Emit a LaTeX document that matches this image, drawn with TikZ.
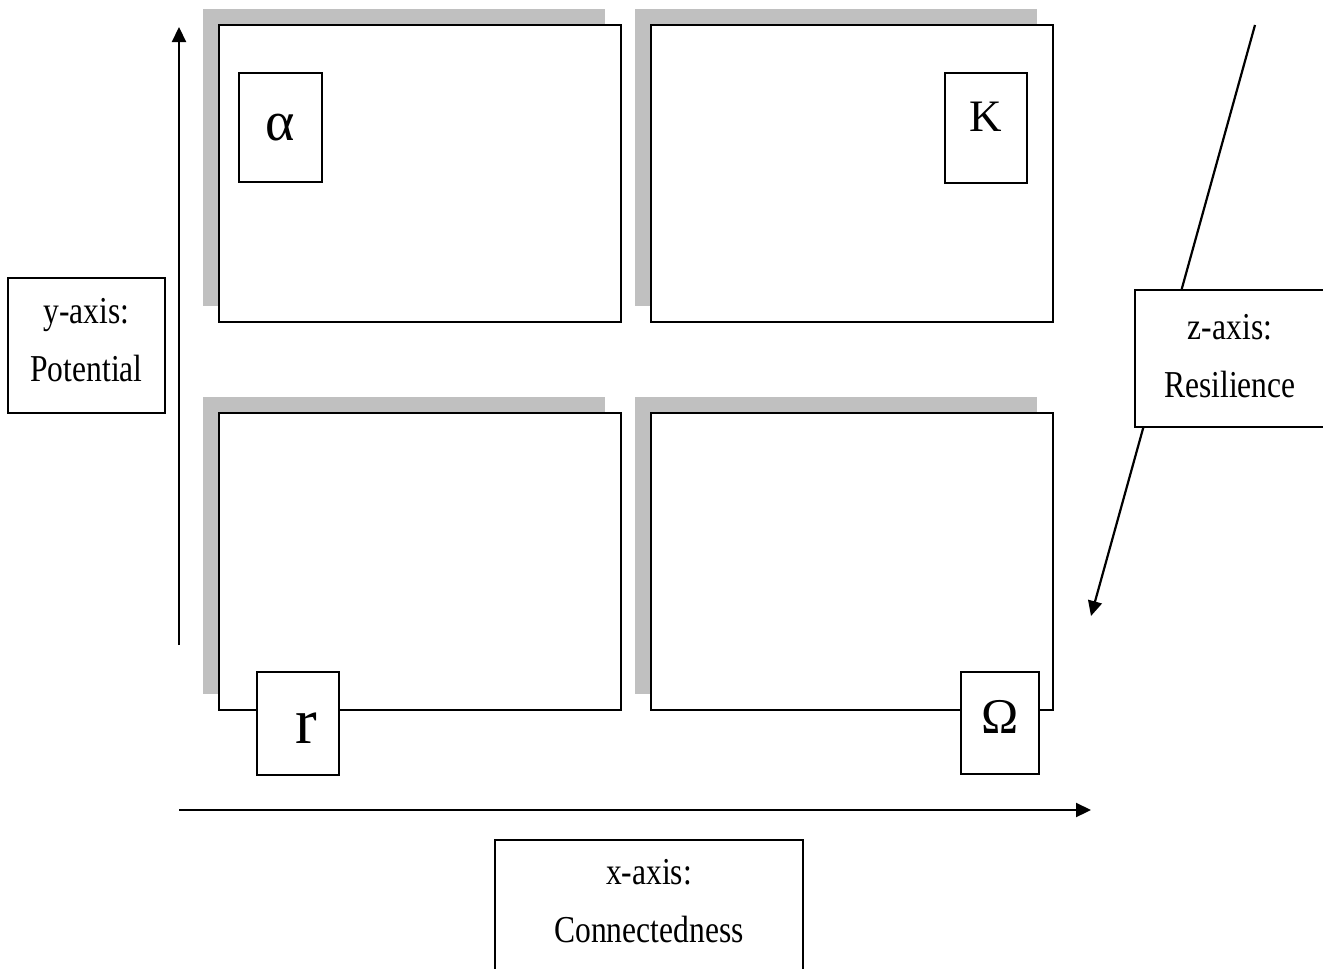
\documentclass[tikz,border=0pt]{standalone}
\usepackage{fontspec}
\setmainfont{Liberation Serif}[FakeStretch=0.83]
\newfontfamily\glyphfont{Liberation Serif}
\usetikzlibrary{arrows.meta,shadows}
\definecolor{shadowgray}{HTML}{C0C0C0}
\tikzset{
  panel/.style={draw, line width=1.6pt, fill=white, inner sep=0pt,
    minimum width=402pt, minimum height=297pt,
    general shadow={fill=shadowgray, shadow xshift=-16pt, shadow yshift=16pt}},
  letterbox/.style={draw, line width=1.6pt, fill=white, inner sep=0pt},
  axislabel/.style={draw, line width=1.6pt, fill=white, inner sep=0pt, align=center,
    font=\fontsize{38}{58}\selectfont},
  axis/.style={line width=2.2pt}
}
\begin{document}
\begin{tikzpicture}[x=1pt,y=-1pt,>={Triangle[length=15pt,width=14pt]}]
  \useasboundingbox (0,0) rectangle (1323,969);

  % the four phases
  \node[panel] (alphapanel) at (420,173.5) {};
  \node[panel] (kpanel) at (852,173.5) {};
  \node[panel] (rpanel) at (420,561.5) {};
  \node[panel] (omegapanel) at (852,561.5) {};

  \node[letterbox, minimum width=83pt, minimum height=109pt,
    font=\glyphfont\fontsize{56}{56}\selectfont] (alpha) at (280.5,127.5) {α};
  \node[letterbox, minimum width=82pt, minimum height=110pt, text depth=22pt,
    font=\glyphfont\fontsize{45}{45}\selectfont] (k) at (986,128) {K};
  \node[letterbox, minimum width=82pt, minimum height=103pt, text height=39pt,
    font=\glyphfont\fontsize{65}{65}\selectfont] (r) at (298,723.5) {\hspace*{16pt}r};
  \node[letterbox, minimum width=78pt, minimum height=102pt, text depth=13pt,
    font=\glyphfont\fontsize{50}{50}\selectfont] (omega) at (1000,723) {Ω};

  % axes
  \coordinate (yfoot) at (179,645);
  \coordinate (yhead) at (179,27);
  \coordinate (xfoot) at (179,810);
  \coordinate (xhead) at (1091,810);
  \coordinate (zfoot) at (1255,25);
  \coordinate (zhead) at (1091,616);
  \draw[axis,->] (yfoot) -- (yhead);
  \draw[axis,->] (xfoot) -- (xhead);
  \draw[axis,->] (zfoot) -- (zhead);

  \node[axislabel, minimum width=157pt, minimum height=135pt, text depth=11pt]
    (ylabel) at (86.5,345.5) {y-axis:\\Potential};
  \node[axislabel, minimum width=308pt, minimum height=162pt, text depth=40pt]
    (xlabel) at (649,921) {x-axis:\\Connectedness};
  \node[axislabel, minimum width=190pt, minimum height=137pt, text depth=6pt]
    (zlabel) at (1230,358.5) {z-axis:\\Resilience};
\end{tikzpicture}
\end{document}
